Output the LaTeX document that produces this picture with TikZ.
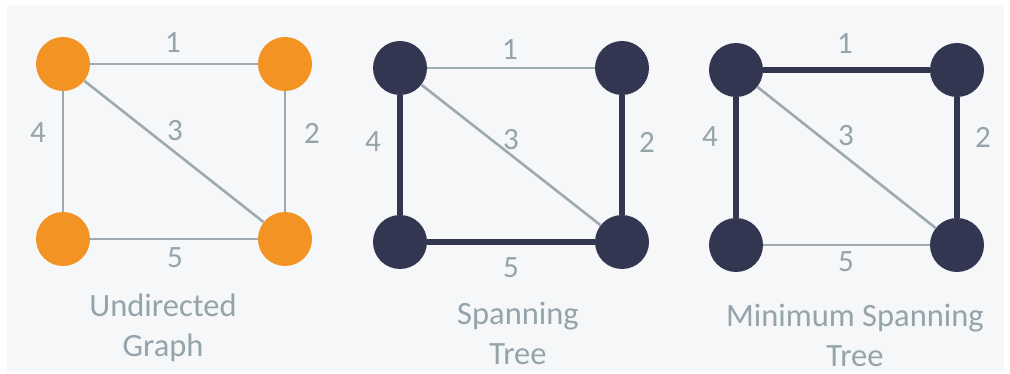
\documentclass[tikz,border=0pt]{standalone}
\usepackage{fontspec}
\setmainfont{Carlito}
\definecolor{bgpanel}{HTML}{F5F7F9}
\definecolor{vorange}{HTML}{F39323}
\definecolor{vnavy}{HTML}{333651}
\definecolor{edgegray}{HTML}{9DAAB0}
\definecolor{labelgray}{HTML}{95A4AB}
\tikzset{
  vtx/.style={circle, minimum size=54pt, inner sep=0pt},
  ovtx/.style={vtx, fill=vorange},
  nvtx/.style={vtx, fill=vnavy},
  thin edge/.style={draw=edgegray, line width=2.6pt},
  thick edge/.style={draw=vnavy, line width=6.5pt},
  weight/.style={text=labelgray, font=\fontsize{31}{33}\selectfont, inner sep=0pt},
  caption/.style={text=labelgray, font=\fontsize{32.5}{40}\selectfont, align=center, inner sep=0pt},
}
\begin{document}
\begin{tikzpicture}[x=1pt, y=-1pt]
\useasboundingbox (0,0) rectangle (1010,374);
\fill[white] (0,0) rectangle (1010,374);
\fill[bgpanel] (7,5) rectangle (1004,372);

% Undirected graph
\node[ovtx] (a1) at (63,64) {};
\node[ovtx] (b1) at (285,64) {};
\node[ovtx] (c1) at (63,239) {};
\node[ovtx] (d1) at (285,239) {};
\draw[thin edge] (a1) -- (b1);
\draw[thin edge] (b1) -- (d1);
\draw[thin edge] (a1) -- (d1);
\draw[thin edge] (a1) -- (c1);
\draw[thin edge] (c1) -- (d1);
\node[weight] (w11) at (173,43) {1};
\node[weight] (w12) at (312,133) {2};
\node[weight] (w13) at (175,131) {3};
\node[weight] (w14) at (38,133) {4};
\node[weight] (w15) at (175,258) {5};
\node[caption] (cap1) at (163,328) {Undirected\\Graph};

% Spanning tree
\node[nvtx] (a2) at (400,68) {};
\node[nvtx] (b2) at (622,68) {};
\node[nvtx] (c2) at (400,242) {};
\node[nvtx] (d2) at (622,242) {};
\draw[thin edge] (a2) -- (b2);
\draw[thin edge] (a2) -- (d2);
\draw[thick edge] (a2) -- (c2);
\draw[thick edge] (b2) -- (d2);
\draw[thick edge] (c2) -- (d2);
\node[weight] (w21) at (510,50) {1};
\node[weight] (w22) at (647,142) {2};
\node[weight] (w23) at (511,140) {3};
\node[weight] (w24) at (373,142) {4};
\node[weight] (w25) at (511,268) {5};
\node[caption] (cap2) at (518,333) {Spanning\\Tree};

% Minimum spanning tree
\node[nvtx] (a3) at (736,70) {};
\node[nvtx] (b3) at (957,70) {};
\node[nvtx] (c3) at (736,245) {};
\node[nvtx] (d3) at (957,245) {};
\draw[thick edge] (a3) -- (b3);
\draw[thick edge] (b3) -- (d3);
\draw[thin edge] (a3) -- (d3);
\draw[thick edge] (a3) -- (c3);
\draw[thin edge] (c3) -- (d3);
\node[weight] (w31) at (845,44) {1};
\node[weight] (w32) at (983,137) {2};
\node[weight] (w33) at (846,136) {3};
\node[weight] (w34) at (710,137) {4};
\node[weight] (w35) at (846,262) {5};
\node[caption] (cap3) at (855,335) {Minimum Spanning\\Tree};
\end{tikzpicture}
\end{document}
